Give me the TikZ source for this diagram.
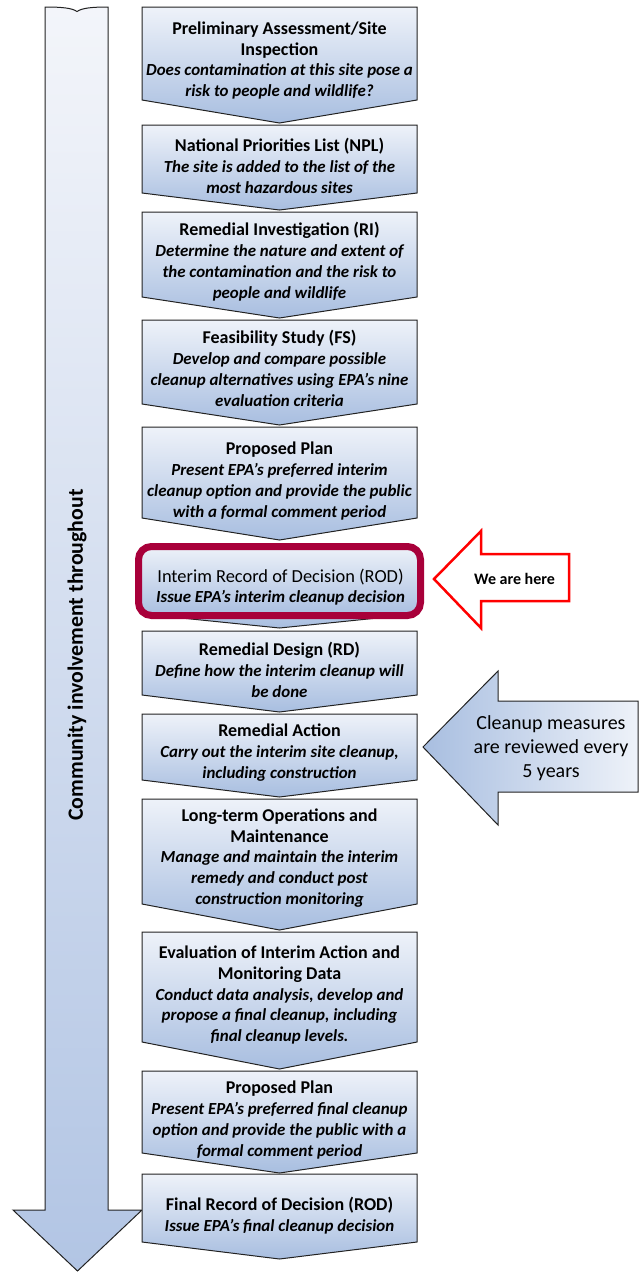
\documentclass[tikz,border=0pt]{standalone}
\usepackage{fontspec}
\setmainfont{Carlito}
\definecolor{boxtop}{HTML}{EEF2F9}
\definecolor{boxbot}{HTML}{A8BEE0}
\definecolor{arrtop}{HTML}{F3F5FA}
\definecolor{arrbot}{HTML}{B2C5E4}
\definecolor{crim}{HTML}{A8003A}
\definecolor{bordergray}{HTML}{222222}
\newcommand\chevbox[3]{\path[chev] (142,#1) -- (417,#1) -- (417,#2) -- (279.5,#3) -- (142,#2) -- cycle;}
\newcommand\subf{\fontsize{16.9}{20.8}\selectfont\bfseries\itshape}
\begin{document}
\begin{tikzpicture}[x=1pt,y=-1pt,
  chev/.style={draw=bordergray, line width=1pt, top color=boxtop, bottom color=boxbot},
  bigarrow/.style={draw=bordergray, line width=1pt, top color=arrtop, bottom color=arrbot},
  sidearrow/.style={draw=bordergray, line width=1pt, left color=boxbot, right color=boxtop},
  herearrow/.style={draw=red, line width=2.5pt, fill=white},
  rodframe/.style={draw=crim, line width=7pt, rounded corners=13pt, top color=boxtop, bottom color=boxbot},
  stagetext/.style={align=center, inner sep=0pt, font=\fontsize{18}{20.8}\selectfont},
]
\useasboundingbox (0,0) rectangle (643,1272);

% community involvement arrow
\path[bigarrow] (45,7) .. controls (62,7) and (72,8) .. (77,11.5) .. controls (82,8) and (92,7) .. (108,7)
  -- (108,1210) -- (142,1210) -- (77.5,1271) -- (13,1210) -- (45,1210) -- cycle;
\node[rotate=90, inner sep=0pt, font=\bfseries\fontsize{21.8}{26}\selectfont] (ci) at (77,655) {Community involvement throughout};

% stages
\chevbox{7}{100}{123}
\chevbox{125}{193}{210}
\chevbox{212}{297}{318}
\chevbox{320}{404}{425}
\chevbox{427}{518}{540}
\chevbox{560}{614}{628}
\path[rodframe] (138.5,546.5) rectangle (420.5,615.5);
\chevbox{631}{695}{712}
\chevbox{714}{780}{797}
\chevbox{799}{904}{930}
\chevbox{932}{1042}{1069}
\chevbox{1071}{1153}{1173}
\chevbox{1174}{1242}{1259}

\node[stagetext] (s1) at (279.5,60.5) {\bfseries Preliminary Assessment/Site\\\bfseries Inspection\\\subf Does contamination at this site pose a\\\subf risk to people and wildlife?};
\node[stagetext] (s2) at (279.5,166) {\bfseries National Priorities List (NPL)\\\subf The site is added to the list of the\\\subf most hazardous sites};
\node[stagetext] (s3) at (279.5,261.5) {\bfseries Remedial Investigation (RI)\\\subf Determine the nature and extent of\\\subf the contamination and the risk to\\\subf people and wildlife};
\node[stagetext] (s4) at (279.5,368.5) {\bfseries Feasibility Study (FS)\\\subf Develop and compare possible\\\subf cleanup alternatives using EPA’s nine\\\subf evaluation criteria};
\node[stagetext] (s5) at (279.5,481) {\bfseries Proposed Plan\\\subf Present EPA’s preferred interim\\\subf cleanup option and provide the public\\\subf with a formal comment period};
\node[stagetext] (s6) at (280.5,587) {\fontsize{18.4}{20.8}\selectfont Interim Record of Decision (ROD)\\\subf Issue EPA’s interim cleanup decision};
\node[stagetext] (s7) at (279.5,670) {\bfseries Remedial Design (RD)\\\subf Define how the interim cleanup will\\\subf be done};
\node[stagetext] (s8) at (279.5,752.5) {\bfseries Remedial Action\\\subf Carry out the interim site cleanup,\\\subf including construction};
\node[stagetext] (s9) at (279.5,858) {\bfseries Long-term Operations and\\\bfseries Maintenance\\\subf Manage and maintain the interim\\\subf remedy and conduct post\\\subf construction monitoring};
\node[stagetext] (s10) at (279.5,995) {\bfseries Evaluation of Interim Action and\\\bfseries Monitoring Data\\\subf Conduct data analysis, develop and\\\subf propose a final cleanup, including\\\subf final cleanup levels.};
\node[stagetext] (s11) at (279.5,1120) {\bfseries Proposed Plan\\\subf Present EPA’s preferred final cleanup\\\subf option and provide the public with a\\\subf formal comment period};
\node[stagetext] (s12) at (279.5,1215.5) {\bfseries Final Record of Decision (ROD)\\\subf Issue EPA’s final cleanup decision};

% we are here
\path[herearrow] (434,579) -- (481,531) -- (481,554) -- (569,554) -- (569,601) -- (481,601) -- (481,628) -- cycle;
\node[inner sep=0pt, font=\bfseries\fontsize{16}{19}\selectfont] (here) at (514.5,579) {We are here};

% review arrow
\path[sidearrow] (423,747) -- (498,671) -- (498,701) -- (638,701) -- (638,792) -- (498,792) -- (498,825) -- cycle;
\node[align=center, inner sep=0pt, font=\fontsize{20}{24}\selectfont] (review) at (551,748) {Cleanup measures\\are reviewed every\\5 years};
\end{tikzpicture}
\end{document}
